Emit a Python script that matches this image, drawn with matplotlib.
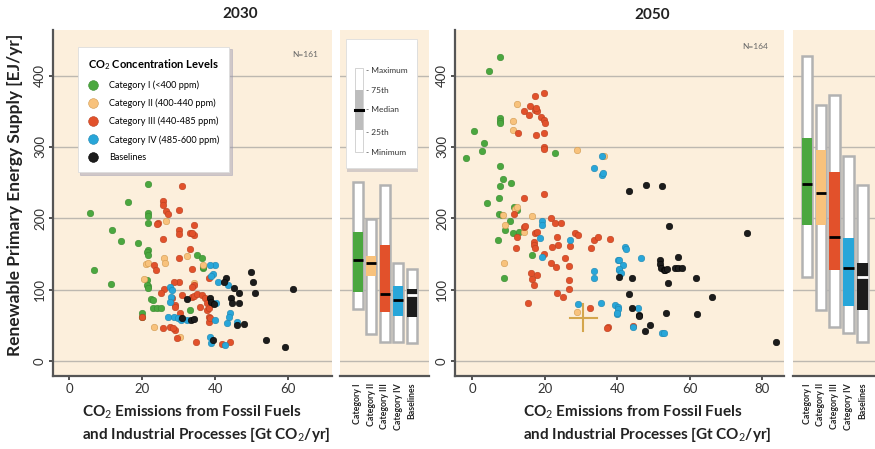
import numpy as np
import matplotlib
matplotlib.use("Agg")
import matplotlib.pyplot as plt
from matplotlib.lines import Line2D
from matplotlib.patches import Rectangle

plt.rcParams['font.family'] = ['Lato', 'DejaVu Sans']
plt.rcParams['mathtext.fontset'] = 'custom'
plt.rcParams['mathtext.rm'] = 'Lato'
plt.rcParams['mathtext.it'] = 'Lato:italic'
plt.rcParams['mathtext.bf'] = 'Lato:bold'

# ---------------- data ----------------
categories = ['Category I', 'Category II', 'Category III', 'Category IV', 'Baselines']
legend_labels = ['Category I (<400 ppm)', 'Category II (400-440 ppm)', 'Category III (440-485 ppm)',
                 'Category IV (485-600 ppm)', 'Baselines']

# 2030 scatter (CO2 emissions Gt/yr, renewable supply EJ/yr)
x30_c1 = [21.7, 16.1, 5.8, 21.7, 21.7, 21.7, 11.7, 14.1, 18.8, 21.5, 21.3, 21.5, 6.8, 11.5, 21.3, 21.5, 21.3,
          21.7, 22.5, 23.0, 23.1, 24.0, 25.2, 20.1, 20.1, 35.0, 36.4, 36.6, 33.2, 36.7]
y30_c1 = [248, 223, 208, 207, 203, 194, 184, 168, 166, 156, 153, 149, 128, 108, 114, 105, 107,
          102, 87, 85, 75, 74, 75, 68, 62, 149, 145, 130, 72, 132]
x30_c2 = [26.6, 26.1, 26.3, 21.0, 20.4, 23.3, 30.4, 32.4, 34.3, 36.6, 21.6]
y30_c2 = [196, 144, 138, 136, 115, 47, 34, 147, 109, 135, 137]
x30_c3 = [30.9, 25.8, 25.8, 26.6, 27.0, 30.0, 24.3, 30.0, 30.1, 33.2, 34.3, 25.8, 33.0, 30.0, 23.3, 23.8, 33.8,
          30.0, 34.1, 26.1, 25.2, 28.3, 29.0, 33.8, 20.1, 25.8, 27.7, 29.0, 29.5, 34.2, 38.2, 34.1, 35.1,
          36.3, 37.3, 37.7, 37.9, 38.2, 38.2, 34.8, 41.8, 44.1, 24.0, 28.5, 33.6, 28.6, 30.9, 29.0, 30.4,
          33.6, 35.9, 38.2, 38.6]
y30_c3 = [246, 225, 218, 210, 206, 212, 193, 184, 178, 180, 177, 171, 157, 144, 135, 128, 129,
          111, 107, 101, 95, 89, 79, 90, 62, 46, 48, 44, 32, 191, 117, 91, 94,
          93, 88, 81, 72, 62, 55, 26, 24, 26, 192, 46, 179, 111, 92, 76, 67,
          104, 76, 74, 60]
x30_c4 = [27.7, 28.1, 27.9, 27.7, 27.2, 28.6, 29.8, 30.7, 32.2, 40.0, 39.4, 38.8, 40.9, 43.4, 40.3, 40.0,
          44.1, 43.9, 43.2, 45.9, 38.6, 38.8, 42.7, 38.6]
y30_c4 = [104, 100, 90, 83, 62, 62, 60, 58, 58, 134, 122, 119, 111, 107, 81, 58,
          67, 62, 53, 54, 34, 25, 22, 135]
x30_bl = [32.2, 31.0, 33.4, 43.0, 42.3, 49.9, 50.3, 50.8, 45.2, 46.4, 38.6, 39.0, 39.7, 44.3, 44.6, 46.4,
          46.1, 47.8, 34.1, 39.5, 54.0, 59.2, 61.3]
y30_bl = [87, 60, 58, 116, 111, 125, 111, 95, 103, 96, 88, 83, 80, 88, 81, 82,
          51, 52, 59, 29, 30, 19, 101]

# 2050 scatter
x50_c1 = [7.7, 4.8, 7.7, 7.7, 7.7, 0.5, 3.4, 2.7, -1.7, 22.9, 7.7, 8.6, 10.7, 7.7, 7.3, 4.0, 7.3, 8.2,
          11.7, 12.3, 10.5, 9.1, 11.4, 13.0, 7.1, 16.5, 8.9]
y50_c1 = [426, 407, 341, 337, 334, 323, 306, 294, 284, 291, 274, 255, 249, 246, 228, 221, 206, 204,
          216, 211, 196, 184, 179, 181, 170, 149, 117]
x50_c2 = [12.5, 11.4, 11.4, 28.9, 36.5, 11.9, 8.4, 16.6, 9.1, 14.4, 8.8, 28.9, 12.3]
y50_c2 = [360, 337, 324, 296, 288, 213, 205, 203, 191, 181, 137, 69, 216]
x50_c3 = [17.4, 19.7, 16.0, 14.2, 15.7, 17.4, 17.8, 17.7, 19.0, 19.7, 20.1, 12.8, 17.6, 19.7, 19.7, 19.7,
          14.2, 19.7, 12.3, 14.2, 14.6, 17.4, 17.8, 17.2, 17.2, 17.4, 21.8, 22.9, 24.6, 12.1, 23.5, 23.8,
          22.0, 19.7, 27.0, 28.4, 29.2, 33.5, 34.8, 38.1, 32.8, 25.7, 21.8, 23.1, 26.8, 16.3, 17.8, 16.6,
          17.1, 26.8, 23.4, 25.2, 26.8, 15.4, 32.4, 37.6, 37.2, 44.5, 11.6]
y50_c3 = [371, 375, 357, 350, 345, 352, 350, 355, 342, 338, 333, 320, 317, 320, 300, 297,
          229, 234, 174, 188, 189, 179, 181, 167, 163, 158, 200, 193, 193, 158, 174, 163,
          160, 150, 161, 179, 177, 169, 174, 171, 158, 144, 138, 132, 133, 123, 121, 115,
          107, 114, 96, 90, 101, 81, 74, 48, 46, 49, 206]
x50_c4 = [35.8, 33.5, 35.8, 36.1, 19.2, 19.4, 18.8, 27.0, 19.2, 40.2, 40.4, 33.7, 33.7, 29.2, 35.6, 39.4,
          40.2, 39.9, 42.2, 42.5, 40.4, 41.7, 40.6, 41.1, 46.6, 40.2, 45.7, 44.5, 52.3, 53.0, 39.9]
y50_c4 = [288, 270, 261, 263, 196, 191, 172, 170, 146, 141, 127, 126, 116, 80, 82, 79,
          76, 66, 160, 157, 141, 135, 129, 124, 144, 73, 74, 47, 39, 39, 68]
x50_bl = [43.3, 48.0, 52.3, 54.4, 75.8, 51.9, 51.9, 52.0, 52.8, 53.2, 53.7, 56.7, 56.0, 56.9, 57.8, 40.6,
          44.2, 54.0, 61.8, 43.3, 66.1, 44.2, 45.9, 46.1, 53.5, 62.0, 49.1, 47.7, 83.8]
y50_bl = [239, 247, 246, 189, 180, 142, 136, 130, 128, 127, 129, 146, 131, 131, 131, 118,
          116, 110, 116, 94, 90, 74, 65, 63, 68, 66, 51, 42, 26]

# box statistics: min, 25th, median, 75th, max
box30_min = [73, 38, 27, 26, 25]
box30_q1 = [97, 119, 69, 63, 62]
box30_med = [142, 138, 94, 86, 92]
box30_q3 = [181, 147, 162, 105, 101]
box30_max = [251, 199, 247, 137, 129]

box50_min = [118, 72, 48, 39, 26]
box50_q1 = [190, 190, 128, 77, 71]
box50_med = [248, 236, 174, 130, 118]
box50_q3 = [313, 296, 265, 173, 137]
box50_max = [427, 359, 373, 288, 247]

# reference cross in 2050 panel
cross_x, cross_y = 30.7, 61
cross_dx, cross_dy = 3.7, 19

# ---------------- styling ----------------
colors = ['#4ba73f', '#f8c27c', '#e2512b', '#28a6d9', '#1c1c1c']
edges = ['#3a8a30', '#d09a50', '#b8401f', '#1f86b0', '#000000']
bg = '#fcefdc'
grid_c = '#bdb8b0'
spine_c = '#555555'

fig = plt.figure(figsize=(8.75, 4.49), dpi=100)
W, H = 875.0, 449.0
def rect(x0, y0, x1, y1):
    return [x0 / W, 1 - y1 / H, (x1 - x0) / W, (y1 - y0) / H]

ax1 = fig.add_axes(rect(53, 30, 332, 376))
bx1 = fig.add_axes(rect(340, 30, 429, 376))
ax2 = fig.add_axes(rect(455, 30, 784, 376))
bx2 = fig.add_axes(rect(793, 30, 875, 376))

ylim = (-21, 464)
yticks = [0, 100, 200, 300, 400]


def style_scatter(ax, xlim, xticks):
    ax.set_facecolor(bg)
    ax.set_xlim(*xlim)
    ax.set_ylim(*ylim)
    ax.set_xticks(xticks)
    ax.set_yticks(yticks)
    ax.set_yticklabels([str(t) for t in yticks], rotation=90, va='center')
    for t in yticks:
        ax.axhline(t, color=grid_c, lw=1.0, zorder=0)
    for s in ['top', 'right']:
        ax.spines[s].set_visible(False)
    for s in ['left', 'bottom']:
        ax.spines[s].set_color(spine_c)
        ax.spines[s].set_linewidth(1.6)
    ax.tick_params(axis='both', colors='#333333', labelsize=9.5, length=3, width=1.2, pad=2)


def style_box(bx, xlim):
    bx.set_facecolor(bg)
    bx.set_xlim(*xlim)
    bx.set_ylim(*ylim)
    for t in yticks:
        bx.axhline(t, color=grid_c, lw=1.0, zorder=0)
    for s in ['top', 'right', 'left']:
        bx.spines[s].set_visible(False)
    bx.spines['bottom'].set_color(spine_c)
    bx.spines['bottom'].set_linewidth(1.6)
    bx.set_yticks([])
    bx.set_xticks(range(1, 6))
    bx.set_xticklabels(categories, rotation=90, fontsize=6.3, fontweight='bold', va='top')
    bx.tick_params(axis='x', length=0, pad=5, colors='#222222')


def draw_boxes(bx, mins, q1s, meds, q3s, maxs, width):
    pos = np.arange(1, 6)
    bx.bar(pos, np.array(maxs) - np.array(mins), bottom=mins, width=width,
           color='white', edgecolor='#b2b2b2', linewidth=1.8, zorder=2)
    bx.bar(pos, np.array(q3s) - np.array(q1s), bottom=q1s, width=width,
           color=colors, edgecolor='none', zorder=3)
    for i, p in enumerate(pos):
        mc = 'white' if i == 4 else 'black'
        bx.plot([p - width / 2, p + width / 2], [meds[i], meds[i]], color=mc, lw=2.0,
                solid_capstyle='butt', zorder=4)


def draw_scatter(ax, xs, ys):
    for i in range(5):
        ax.scatter(xs[i], ys[i], s=22, color=colors[i], edgecolors=edges[i],
                   linewidths=0.4, zorder=3 + i * 0.1)


style_scatter(ax1, (-4.4, 72), [0, 20, 40, 60])
style_scatter(ax2, (-4.7, 86), [0, 20, 40, 60, 80])
style_box(bx1, (-0.33, 6.26))
style_box(bx2, (-0.01, 5.9))

draw_scatter(ax1, [x30_c1, x30_c2, x30_c3, x30_c4, x30_bl], [y30_c1, y30_c2, y30_c3, y30_c4, y30_bl])
draw_scatter(ax2, [x50_c1, x50_c2, x50_c3, x50_c4, x50_bl], [y50_c1, y50_c2, y50_c3, y50_c4, y50_bl])

draw_boxes(bx1, box30_min, box30_q1, box30_med, box30_q3, box30_max, 0.74)
draw_boxes(bx2, box50_min, box50_q1, box50_med, box50_q3, box50_max, 0.76)

# cross marker
ax2.plot([cross_x - cross_dx, cross_x + cross_dx], [cross_y, cross_y], color='#d4a64c', lw=1.5, zorder=5)
ax2.plot([cross_x, cross_x], [cross_y - cross_dy, cross_y + cross_dy], color='#d4a64c', lw=1.5, zorder=5)

ax1.text(0.903, 0.93, 'N=161', transform=ax1.transAxes, fontsize=6, color='#666666', ha='center', va='center')
ax2.text(0.912, 0.952, 'N=164', transform=ax2.transAxes, fontsize=6, color='#666666', ha='center', va='center')

# scatter legend
handles = [Line2D([], [], marker='o', ls='None', markersize=7, markerfacecolor=colors[i],
                  markeredgecolor=edges[i], markeredgewidth=0.4, label=legend_labels[i]) for i in range(5)]
leg = ax1.legend(handles=handles, title='CO$_2$ Concentration Levels', loc='upper left',
                 bbox_to_anchor=(0.072, 0.965), fontsize=6.6, title_fontsize=8, frameon=True,
                 fancybox=False, shadow={'color': '#9a98b0', 'alpha': 0.45}, edgecolor='#dddddd',
                 labelspacing=0.95, handletextpad=1.1, borderpad=1.1, handlelength=1.2, alignment='left')
leg.get_title().set_fontweight('bold')
leg.get_frame().set_linewidth(0.6)

# box legend in 2030 box panel
bx1.add_patch(Rectangle((0.079, 0.59), 0.797, 0.375, transform=bx1.transAxes, facecolor='#8a8aa0',
                        edgecolor='none', alpha=0.35, zorder=5))
bx1.add_patch(Rectangle((0.066, 0.6), 0.797, 0.375, transform=bx1.transAxes, facecolor='white',
                        edgecolor='#dddddd', lw=0.6, zorder=6))
bx1.add_patch(Rectangle((0.169, 0.647), 0.089, 0.243, transform=bx1.transAxes, facecolor='white',
                        edgecolor='#cccccc', lw=0.6, zorder=7))
bx1.add_patch(Rectangle((0.169, 0.711), 0.089, 0.116, transform=bx1.transAxes, facecolor='#bdbdbd',
                        edgecolor='none', zorder=8))
bx1.plot([0.169, 0.258], [0.769, 0.769], transform=bx1.transAxes, color='black', lw=2.2, zorder=9)
for lab, yy in zip(['Maximum', '75th', 'Median', '25th', 'Minimum'], [0.884, 0.824, 0.769, 0.705, 0.647]):
    bx1.text(0.29, yy, '- ' + lab, transform=bx1.transAxes, fontsize=6, color='#333333',
             va='center', ha='left', zorder=9)

# axis labels and titles
fig.text(15 / W, 1 - 195 / H, 'Renewable Primary Energy Supply [EJ/yr]', rotation=90, ha='center',
         va='center', fontsize=12.5, fontweight='bold', color='#222222')
xlab = 'CO$_2$ Emissions from Fossil Fuels\nand Industrial Processes [Gt CO$_2$/yr]'
fig.text(82 / W, 1 - 424 / H, xlab, ha='left', va='center', fontsize=11, fontweight='bold',
         color='#222222', linespacing=1.25)
fig.text(523 / W, 1 - 424 / H, xlab, ha='left', va='center', fontsize=11, fontweight='bold',
         color='#222222', linespacing=1.25)
fig.text(240 / W, 1 - 14 / H, '2030', ha='center', va='center', fontsize=11, fontweight='bold', color='#222222')
fig.text(652 / W, 1 - 15 / H, '2050', ha='center', va='center', fontsize=11, fontweight='bold', color='#222222')

fig.savefig('out.png', dpi=100, facecolor='white')
